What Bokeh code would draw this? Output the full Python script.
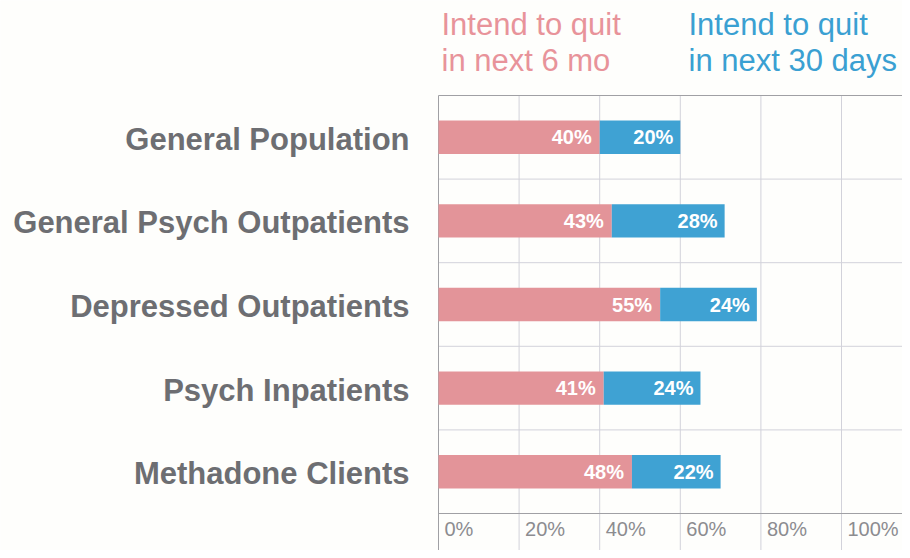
from bokeh.plotting import figure
from bokeh.models import Range1d
from bokeh.core.properties import value
from bokeh.embed import file_html
from bokeh.resources import INLINE

# ---- data ----
categories = ["General Population", "General Psych Outpatients",
              "Depressed Outpatients", "Psych Inpatients", "Methadone Clients"]
quit_6mo = [40, 43, 55, 41, 48]
quit_30d = [20, 28, 24, 24, 22]
series_names = ["Intend to quit\nin next 6 mo", "Intend to quit\nin next 30 days"]
x_ticks = [0, 20, 40, 60, 80, 100]
x_tick_labels = ["0%", "20%", "40%", "60%", "80%", "100%"]

# ---- style / layout ----
PINK = "#E39499"
BLUE = "#3FA2D3"
PINK_TXT = "#E8939A"
BLUE_TXT = "#3AA0D2"
LABEL_GRAY = "#6D6E72"
TICK_GRAY = "#8C8C90"
GRID = "#D2D2DA"
BORDER = "#A0A0A4"
BG = "#FEFEFC"
FONT = value("Liberation Sans")

W, H = 902, 550
LEFT = 438.0      # canvas x of the 0% line
PXX = 4.03        # pixels per percent
PXY = 83.6        # pixels per row
AXIS_Y = 513.0    # canvas y of the bottom axis line

n = len(categories)
rows = [n - i for i in range(n)]
totals = [a + b for a, b in zip(quit_6mo, quit_30d)]

x_start = -LEFT / PXX
x_end = (W - LEFT) / PXX
y_end = 0.5 + AXIS_Y / PXY
y_start = 0.5 - (H - AXIS_Y) / PXY
top_line = n + 0.5


def cy(c):
    return y_end - c / PXY


def cx(c):
    return (c - LEFT) / PXX


p = figure(width=W, height=H, x_range=Range1d(x_start, x_end),
           y_range=Range1d(y_start, y_end), output_backend="svg",
           toolbar_location=None, x_axis_type=None, y_axis_type=None,
           min_border=0, background_fill_color=BG, border_fill_color=BG,
           outline_line_color=None)

# grid lines
vt = x_ticks[1:]
p.segment(x0=vt, y0=[y_start] * len(vt), x1=vt, y1=[top_line] * len(vt),
          line_color=GRID, line_width=1)
hy = [r + 0.5 for r in rows[1:]]
p.segment(x0=[0] * len(hy), y0=hy, x1=[x_end] * len(hy), y1=hy,
          line_color=GRID, line_width=1)
# frame borders
p.segment(x0=[0, 0, 0], y0=[y_start, top_line, 0.5],
          x1=[0, x_end, x_end], y1=[top_line, top_line, 0.5],
          line_color=BORDER, line_width=1)

# bars
p.hbar(y=rows, left=0, right=quit_6mo, height=0.4, fill_color=PINK, line_color=None)
p.hbar(y=rows, left=quit_6mo, right=totals, height=0.4, fill_color=BLUE, line_color=None)

# bar labels
p.text(x=quit_6mo, y=rows, text=[f"{v}%" for v in quit_6mo], x_offset=-8,
       text_align="right", text_baseline="middle", text_color="white",
       text_font=FONT, text_font_style="bold", text_font_size="20px")
p.text(x=totals, y=rows, text=[f"{v}%" for v in quit_30d], x_offset=-7,
       text_align="right", text_baseline="middle", text_color="white",
       text_font=FONT, text_font_style="bold", text_font_size="20px")

# category labels
p.text(x=[0] * n, y=rows, text=categories, x_offset=-29, y_offset=2,
       text_align="right", text_baseline="middle", text_color=LABEL_GRAY,
       text_font=FONT, text_font_style="bold", text_font_size="31px")

# x tick labels
p.text(x=x_ticks, y=[0.5] * len(x_ticks), text=x_tick_labels, x_offset=6, y_offset=15,
       text_align="left", text_baseline="middle", text_color=TICK_GRAY,
       text_font=FONT, text_font_size="20px")

# series headers
head_x = [cx(441.0), cx(688.0)]
head_colors = [PINK_TXT, BLUE_TXT]
for name, hx, col in zip(series_names, head_x, head_colors):
    lines = name.split("\n")
    p.text(x=[hx] * len(lines), y=[cy(24.0 + 36.0 * i) for i in range(len(lines))],
           text=lines, text_align="left", text_baseline="alphabetic",
           text_color=col, text_font=FONT, text_font_size="31px")

open("out.html", "w").write(file_html(p, INLINE))
